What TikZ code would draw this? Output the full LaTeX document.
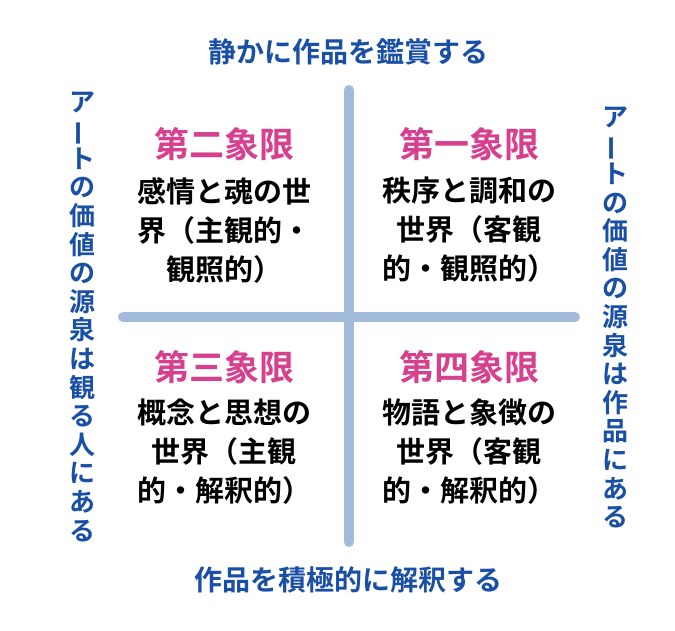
\documentclass[tikz,border=0pt]{standalone}
\usepackage{fontspec}
\usepackage{graphicx}
\newfontfamily\jp[BoldFont={Noto Sans CJK JP Bold}]{Noto Sans CJK JP}
\definecolor{axisblue}{HTML}{A3BBDA}
\definecolor{textblue}{HTML}{1A4FA6}
\definecolor{quadpink}{HTML}{D6408E}
\tikzset{
  bar/.style={line width=10pt, line cap=round, draw=axisblue},
  axislabel/.style={text=textblue, font=\jp\bfseries\fontsize{28}{30}\selectfont, inner sep=0pt},
  vlabel/.style={text=textblue, font=\jp\bfseries\fontsize{26}{28.6}\selectfont, align=center, inner sep=0pt},
  quadhead/.style={text=quadpink, font=\jp\bfseries\fontsize{35}{40}\selectfont, inner sep=0pt},
  quadbody/.style={text=black, font=\jp\bfseries\fontsize{29}{39}\selectfont, align=center, inner sep=0pt},
}
\newcommand{\vbar}{\rotatebox[origin=c]{90}{ー}}
\begin{document}
\begin{tikzpicture}[x=1pt,y=-1pt]
\useasboundingbox[fill=white] (0,0) rectangle (675,630);
% axes
\coordinate (vt) at (349,90);
\coordinate (vb) at (349,542);
\coordinate (hl) at (123,317);
\coordinate (hr) at (575,317);
\draw[bar] (vt) -- (vb);
\draw[bar] (hl) -- (hr);
% axis labels
\node[axislabel] (top) at (348,52) {静かに作品を鑑賞する};
\node[axislabel] (bottom) at (348,580) {作品を積極的に解釈する};
\node[vlabel] (left) at (82,316.5) {ア\\\vbar\\ト\\の\\価\\値\\の\\源\\泉\\は\\観\\る\\人\\に\\あ\\る};
\node[vlabel] (right) at (615,317.5) {ア\\\vbar\\ト\\の\\価\\値\\の\\源\\泉\\は\\作\\品\\に\\あ\\る};
% quadrants
\node[quadhead] (q2h) at (224,144) {第二象限};
\node[quadbody] (q2b) at (224,230) {感情と魂の世\\界（主観的・\\観照的）};
\node[quadhead] (q1h) at (469,144) {第一象限};
\node[quadbody] (q1b) at (469,230) {秩序と調和の\\世界（客観\\的・観照的）};
\node[quadhead] (q3h) at (224,367) {第三象限};
\node[quadbody] (q3b) at (224,452) {概念と思想の\\世界（主観\\的・解釈的）};
\node[quadhead] (q4h) at (469,367) {第四象限};
\node[quadbody] (q4b) at (469,452) {物語と象徴の\\世界（客観\\的・解釈的）};
\end{tikzpicture}
\end{document}
